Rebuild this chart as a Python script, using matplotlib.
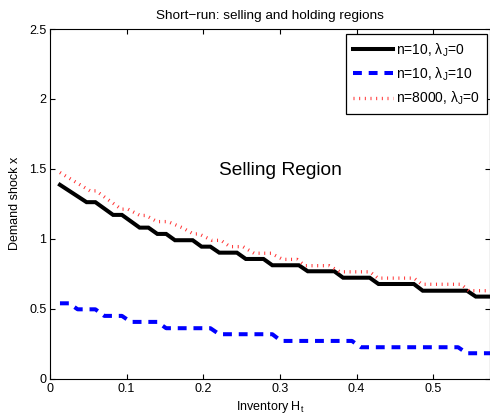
import matplotlib
matplotlib.use("Agg")
import matplotlib.pyplot as plt

plt.rcParams['font.family'] = ['Liberation Sans', 'DejaVu Sans']
plt.rcParams['mathtext.default'] = 'regular'
plt.rcParams['font.size'] = 9

# Selling/holding boundary (stair corners) for each model
h_n10 = [0.013, 0.0477, 0.0592, 0.0823, 0.0938, 0.1169, 0.1284, 0.140, 0.1515,
         0.163, 0.1861, 0.1977, 0.2092, 0.2208, 0.2438, 0.2554, 0.2785, 0.290,
         0.3246, 0.3362, 0.3708, 0.3823, 0.417, 0.4285, 0.4746, 0.4862, 0.5439,
         0.5554, 0.5785]
x_n10 = [1.386, 1.262, 1.262, 1.171, 1.171, 1.080, 1.080, 1.035, 1.035,
         0.990, 0.990, 0.944, 0.944, 0.901, 0.901, 0.856, 0.856, 0.811,
         0.811, 0.768, 0.768, 0.722, 0.722, 0.677, 0.677, 0.629, 0.629,
         0.587, 0.587]

h_jump = [0.013, 0.0246, 0.0361, 0.0592, 0.0708, 0.0938, 0.1054, 0.140, 0.1515,
          0.2092, 0.2208, 0.290, 0.3015, 0.3939, 0.4054, 0.5323, 0.5439, 0.5785]
x_jump = [0.539, 0.539, 0.496, 0.496, 0.449, 0.449, 0.406, 0.406, 0.361,
          0.361, 0.318, 0.318, 0.270, 0.270, 0.225, 0.225, 0.182, 0.182]

h_n8000 = [0.013, 0.0522, 0.060, 0.093, 0.1017, 0.1174, 0.1252, 0.1396, 0.1539,
           0.1731, 0.1869, 0.1943, 0.2113, 0.223, 0.2348, 0.2517, 0.2661, 0.2883,
           0.3035, 0.3222, 0.3326, 0.3639, 0.3783, 0.4174, 0.4278, 0.4748, 0.4852,
           0.5361, 0.5465, 0.5785]
x_n8000 = [1.474, 1.343, 1.343, 1.212, 1.212, 1.167, 1.167, 1.123, 1.123,
           1.078, 1.035, 1.035, 0.989, 0.989, 0.944, 0.944, 0.897, 0.897,
           0.853, 0.853, 0.808, 0.808, 0.764, 0.764, 0.719, 0.719, 0.675,
           0.675, 0.629, 0.629]

labels = ['n=10, λ$_J$=0', 'n=10, λ$_J$=10', 'n=8000, λ$_J$=0']
xticks = [0, 0.1, 0.2, 0.3, 0.4, 0.5]
xticklabels = ['0', '0.1', '0.2', '0.3', '0.4', '0.5']
yticks = [0, 0.5, 1, 1.5, 2, 2.5]
yticklabels = ['0', '0.5', '1', '1.5', '2', '2.5']

W, H = 490, 416
fig = plt.figure(figsize=(W / 100, H / 100), dpi=100, facecolor='white')
ax = fig.add_axes([50 / W, (H - 378.7) / H, 439.5 / W, 349.7 / H])

ax.plot(h_n10, x_n10, color='black', lw=2.9, solid_joinstyle='miter',
        label=labels[0])
ax.plot(h_jump, x_jump, color=(0, 0, 1), lw=2.9, linestyle=(0, (2.2, 1.7)),
        dash_capstyle='butt', label=labels[1])
ax.plot(h_n8000, x_n8000, color=(1, 0.2, 0.2), lw=2.4, linestyle=(0, (0.3, 1.4)),
        dash_capstyle='butt', label=labels[2])

ax.set_xlim(0, 0.5733)
ax.set_ylim(0, 2.5)
ax.set_xticks(xticks)
ax.set_xticklabels(xticklabels)
ax.set_yticks(yticks)
ax.set_yticklabels(yticklabels)
ax.tick_params(direction='in', top=True, right=True, length=3.6, width=0.8,
               labelsize=9)
ax.tick_params(axis='x', pad=3)
ax.tick_params(axis='y', pad=2.5)
for sp in ax.spines.values():
    sp.set_linewidth(0.8)

ax.set_title('Short\u2212run: selling and holding regions', fontsize=9.7, pad=7)
ax.set_xlabel('Inventory H$_t$', fontsize=9, labelpad=3)
ax.set_ylabel('Demand shock x', fontsize=9, labelpad=6)

ax.text(0.301, 1.49, 'Selling Region', fontsize=13.8, ha='center', va='center')

leg = ax.legend(loc='upper right', bbox_to_anchor=(487.3 / W, 1 - 34.3 / H),
                bbox_transform=fig.transFigure, borderaxespad=0, fancybox=False,
                edgecolor='black', framealpha=1, fontsize=10, handlelength=2.9,
                handletextpad=0.25, borderpad=0.5, labelspacing=0.48)
leg.get_frame().set_linewidth(0.9)

fig.savefig('out.png', dpi=100, facecolor='white')
